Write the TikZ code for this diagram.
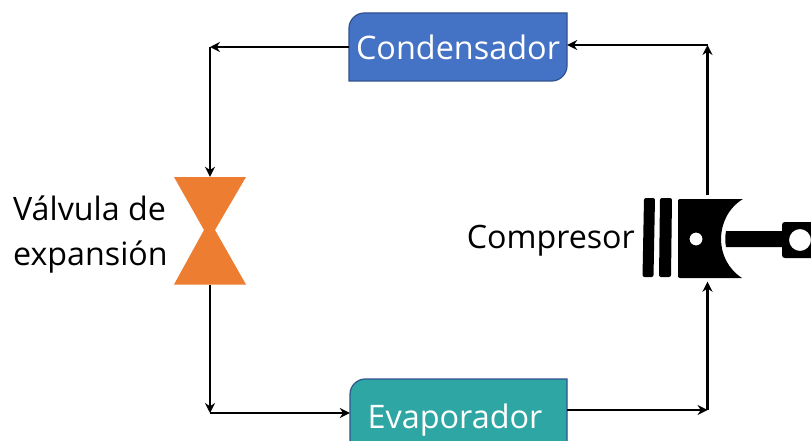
\documentclass[tikz,border=0pt]{standalone}
\usepackage{fontspec}
\setmainfont{Open Sans}
\usetikzlibrary{arrows.meta}
\definecolor{bluefill}{HTML}{4472C4}
\definecolor{blueedge}{HTML}{2F528F}
\definecolor{tealfill}{HTML}{2EA6A3}
\definecolor{valveorange}{HTML}{ED7D31}
\tikzset{
  flow/.style={draw=black,line width=2.4pt,-{Stealth[length=10pt,width=10pt]}},
  boxlabel/.style={text=white,font=\fontsize{32.4}{36}\selectfont,inner sep=0pt,minimum width=218pt,minimum height=68pt},
  plain/.style={text=black,font=\fontsize{32.2}{45}\selectfont,inner sep=0pt},
  pistonblack/.style={fill=black,draw=none},
  anchorbox/.style={inner sep=0pt,minimum width=#1,minimum height=108pt}
}
\begin{document}
\begin{tikzpicture}[x=1pt,y=-1pt]
\useasboundingbox (0,0) rectangle (811,441);
% Condensador shape
\path[fill=bluefill,draw=blueedge,line width=1.2pt]
  (349,81) -- (349,28) .. controls (349,20) and (356,13) .. (364,13) -- (567,13) -- (567,66)
  .. controls (567,74) and (560,81) .. (552,81) -- cycle;
\node[boxlabel] (cond) at (458,47) {Condensador};
% Evaporador shape
\begin{scope}
\clip (0,0) rectangle (811,441);
\path[fill=tealfill,draw=blueedge,line width=1.2pt]
  (350,450) -- (350,394) .. controls (350,386) and (357,379) .. (365,379) -- (567,379) -- (567,450) -- cycle;
\end{scope}
\node[inner sep=0pt,minimum width=217pt,minimum height=62pt] (evap) at (458.5,410) {};
\node[text=white,font=\fontsize{32.4}{36}\selectfont,inner sep=0pt] (evaptext) at (455,420) {Evaporador};
% Valve
\path[fill=valveorange] (174,177) -- (246,177) -- (215,230) -- (246,284.5) -- (174,284.5) -- (204,230) -- cycle;
\node[anchorbox=72pt] (valve) at (210,231) {};
\node[plain,align=left,anchor=west] (valvetext) at (13,235) {Válvula de\\expansión};
% Piston
\path[pistonblack,rounded corners=2pt] (644,198) -- (655,198) -- (653.5,277) -- (642.5,277) -- cycle;
\path[pistonblack,rounded corners=2pt] (660,198) -- (672,198) -- (671,277) -- (659,277) -- cycle;
\path[pistonblack,even odd rule]
  (680,199) -- (743,199) .. controls (728,208) and (721,224) .. (721,239)
  .. controls (721,254) and (728,269) .. (742,278) -- (680,278)
  .. controls (678.5,278) and (678,277) .. (678,276) -- (678,201) .. controls (678,200) and (678.5,199) .. (680,199) -- cycle
  (696,239) circle[radius=6.5];
\path[pistonblack] (726,231) -- (784,231) -- (784,247) -- (726,247)
  .. controls (725,242) and (725,236) .. (726,231) -- cycle;
\path[pistonblack,even odd rule] (811,222) -- (785,222) .. controls (783,222) and (782,223) .. (782,225)
  -- (782,255) .. controls (782,257) and (783,258) .. (785,258) -- (811,258) -- cycle
  (800,240) circle[radius=11];
\node[inner sep=0pt,minimum width=100pt,minimum height=86pt] (comp) at (707,238.5) {};
\node[plain,anchor=east] (comptext) at (635,241) {Compresor};
% Corners
\coordinate (tr) at (707.5,45);
\coordinate (tl) at (210,47);
\coordinate (bl) at (210,413);
\coordinate (br) at (707.5,410);
% Connectors
\draw[flow] (cond.west |- tl) -- (tl);
\draw[flow] (tl) -- (valve.north -| tl);
\draw[flow] (valve.south -| bl) -- (bl);
\draw[flow] (bl) -- (evap.west |- bl);
\draw[flow] (evap.east |- br) -- (br);
\draw[flow] (br) -- (comp.south -| br);
\draw[flow] (comp.north -| tr) -- (tr);
\draw[flow] (tr) -- (cond.east |- tr);
\end{tikzpicture}
\end{document}
